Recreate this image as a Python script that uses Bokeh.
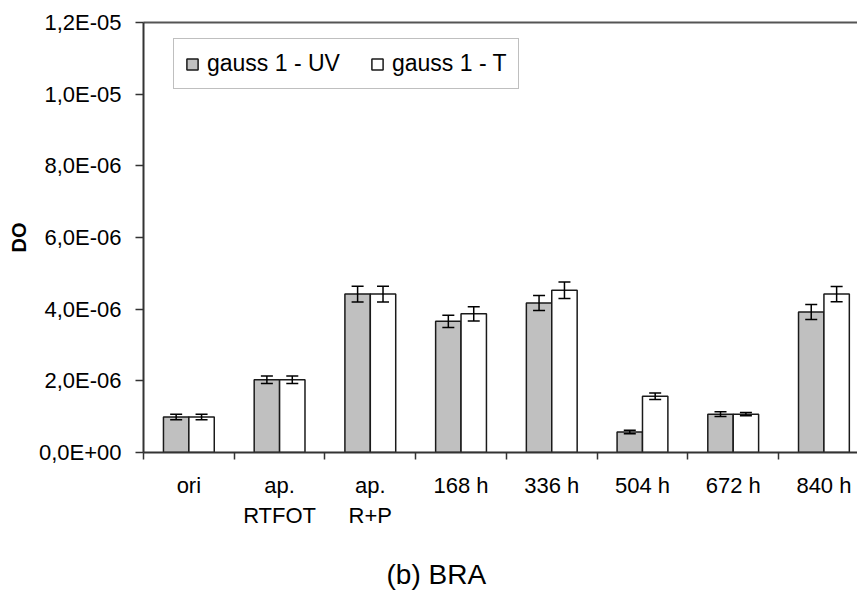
from bokeh.plotting import figure
from bokeh.models import (Range1d, FixedTicker, LinearAxis, CustomJSTickFormatter,
                          Whisker, ColumnDataSource, Legend, LegendItem, Title, TeeHead)
from bokeh.embed import file_html
from bokeh.resources import INLINE

# ---- data ----
categories = ["ori", "ap.\nRTFOT", "ap.\nR+P", "168 h", "336 h", "504 h", "672 h", "840 h"]
series_names = ["gauss 1 - UV", "gauss 1 - T"]
uv_values = [0.99e-6, 2.03e-6, 4.42e-6, 3.66e-6, 4.17e-6, 0.57e-6, 1.07e-6, 3.92e-6]
uv_errors = [0.075e-6, 0.105e-6, 0.22e-6, 0.17e-6, 0.21e-6, 0.05e-6, 0.065e-6, 0.21e-6]
t_values = [0.99e-6, 2.03e-6, 4.42e-6, 3.87e-6, 4.53e-6, 1.57e-6, 1.07e-6, 4.42e-6]
t_errors = [0.075e-6, 0.105e-6, 0.22e-6, 0.20e-6, 0.23e-6, 0.09e-6, 0.045e-6, 0.21e-6]
y_ticks = [0, 2e-6, 4e-6, 6e-6, 8e-6, 1e-5, 1.2e-5]
y_axis_title = "DO"
chart_caption = "(b) BRA"

FONT = "Liberation Sans"
BAR_W = 0.28

centers = [i + 0.5 for i in range(len(categories))]
uv_src = ColumnDataSource(dict(
    x=[c - BAR_W / 2 for c in centers], top=uv_values,
    upper=[v + e for v, e in zip(uv_values, uv_errors)],
    lower=[v - e for v, e in zip(uv_values, uv_errors)]))
t_src = ColumnDataSource(dict(
    x=[c + BAR_W / 2 for c in centers], top=t_values,
    upper=[v + e for v, e in zip(t_values, t_errors)],
    lower=[v - e for v, e in zip(t_values, t_errors)]))

p = figure(width=857, height=594, output_backend="svg", toolbar_location=None,
           x_range=Range1d(0, 7.87), y_range=Range1d(0, 1.2e-5),
           min_border_left=143, min_border_right=0, min_border_top=22,
           min_border_bottom=142)
p.grid.visible = False
p.outline_line_color = None
p.background_fill_color = "white"
p.border_fill_color = "white"

r_uv = p.vbar(x="x", top="top", width=BAR_W, source=uv_src,
              fill_color="#c0c0c0", line_color="#1a1a1a", line_width=1.5)
r_t = p.vbar(x="x", top="top", width=BAR_W, source=t_src,
             fill_color="white", line_color="#1a1a1a", line_width=1.5)

for src in (uv_src, t_src):
    w = Whisker(source=src, base="x", upper="upper", lower="lower", dimension="height",
                line_color="black", line_width=1.5, level="overlay",
                upper_head=TeeHead(size=12, line_color="black", line_width=1.5),
                lower_head=TeeHead(size=12, line_color="black", line_width=1.5))
    p.add_layout(w)

# bottom (category) axis
xa = p.below[0]
xa.ticker = FixedTicker(ticks=centers, minor_ticks=list(range(len(categories) + 1)))
xa.major_label_overrides = {c: lab for c, lab in zip(centers, categories)}
xa.major_tick_line_color = None
xa.major_tick_out = 7
xa.major_tick_in = 0
xa.minor_tick_line_color = "#333333"
xa.minor_tick_line_width = 1.5
xa.minor_tick_out = 7
xa.minor_tick_in = 0
xa.axis_line_color = "#333333"
xa.axis_line_width = 2
xa.major_label_text_font = FONT
xa.major_label_text_font_size = "22px"
xa.major_label_text_color = "black"
xa.major_label_text_line_height = 1.2
xa.major_label_standoff = 13

# invisible spacer between the category labels and the caption
spacer = LinearAxis(ticker=FixedTicker(ticks=[0.5], minor_ticks=[]),
                    major_label_overrides={0.5: ""},
                    major_label_text_font_size="1px", major_label_standoff=0,
                    axis_line_color=None, major_tick_line_color=None,
                    minor_tick_line_color=None, major_tick_out=26, major_tick_in=0,
                    minor_tick_out=0)
p.add_layout(spacer, "below")

# left axis
ya = p.left[0]
ya.ticker = FixedTicker(ticks=y_ticks, minor_ticks=[])
ya.formatter = CustomJSTickFormatter(code="""
if (tick == 0) { return "0,0E+00"; }
const parts = tick.toExponential(1).split("e");
const m = parts[0].replace(".", ",");
let e = parseInt(parts[1]);
const sign = e < 0 ? "-" : "+";
e = Math.abs(e);
return m + "E" + sign + (e < 10 ? "0" + e : "" + e);
""")
ya.major_tick_line_color = "#333333"
ya.major_tick_line_width = 1.5
ya.major_tick_out = 8
ya.major_tick_in = 0
ya.axis_line_color = "#333333"
ya.axis_line_width = 2
ya.major_label_text_font = FONT
ya.major_label_text_font_size = "22px"
ya.major_label_text_color = "black"
ya.major_label_standoff = 14
ya.axis_label = y_axis_title
ya.axis_label_text_font = FONT
ya.axis_label_text_font_size = "20px"
ya.axis_label_text_font_style = "bold"
ya.axis_label_text_color = "black"
ya.axis_label_standoff = 6

# top border line
top_axis = LinearAxis(ticker=FixedTicker(ticks=[], minor_ticks=[]),
                      major_label_text_font_size="0px",
                      axis_line_color="#555555", axis_line_width=2,
                      major_tick_line_color=None, minor_tick_line_color=None,
                      major_tick_out=0, minor_tick_out=0)
p.add_layout(top_axis, "above")

legend = Legend(items=[LegendItem(label=series_names[0], renderers=[r_uv]),
                       LegendItem(label=series_names[1], renderers=[r_t])],
                orientation="horizontal", location=(30, 363),
                border_line_color="#808080", border_line_width=1.5,
                background_fill_color="white", background_fill_alpha=1.0,
                padding=11, spacing=30, glyph_width=14, glyph_height=14,
                label_standoff=8, label_text_font=FONT, label_text_font_size="23px",
                label_text_color="black", margin=0)
p.add_layout(legend)

cap = Title(text=chart_caption, align="left", offset=243, standoff=0,
            text_font=FONT, text_font_size="28px", text_font_style="normal",
            text_color="black")
p.add_layout(cap, "below")

open("out.html", "w").write(file_html(p, INLINE))
